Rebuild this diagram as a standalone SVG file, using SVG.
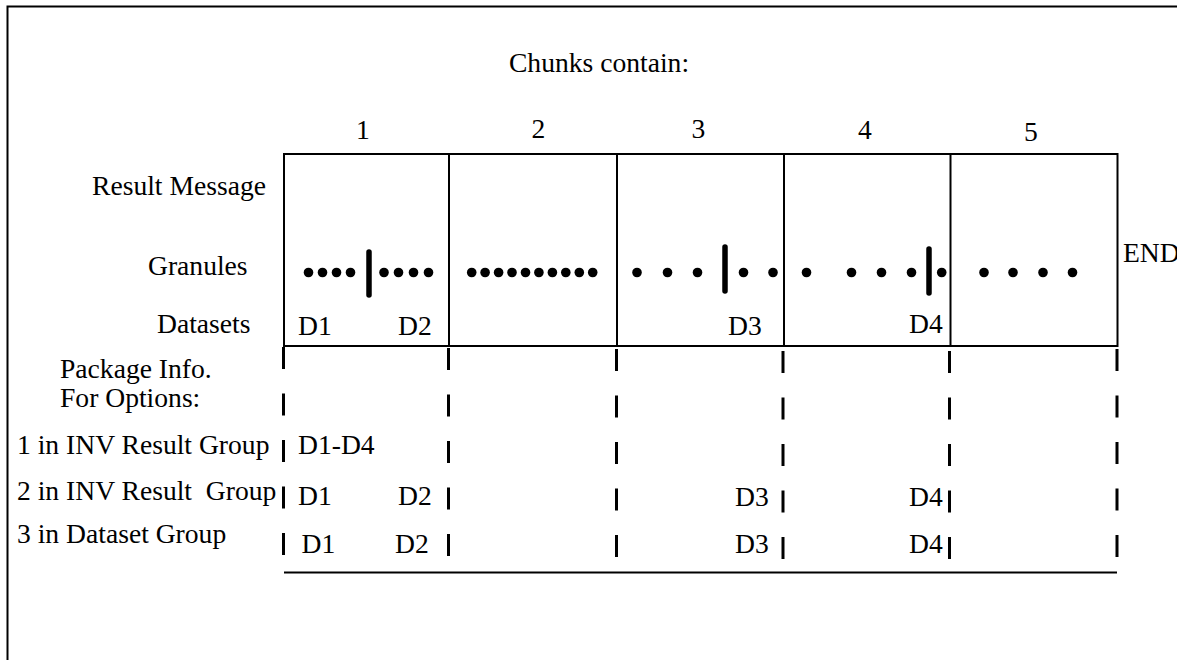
<svg xmlns="http://www.w3.org/2000/svg" width="1177" height="660" viewBox="0 0 1177 660">
<style>
  text { font-family: "Liberation Serif", "Times New Roman", serif; font-size: 27.6px; fill: #000; }
  .frame { fill: none; stroke: #000; stroke-width: 2; }
  .box { fill: none; stroke: #000; stroke-width: 2; }
  .div { stroke: #000; stroke-width: 2; }
  .dash { stroke: #000; stroke-width: 3; stroke-dasharray: 22 24.5; }
  .bar { stroke: #000; stroke-width: 5.5; stroke-linecap: round; }
  .dot { fill: #000; }
  .base { stroke: #000; stroke-width: 2; }
</style>
<defs>
  <circle id="d" r="4.8" class="dot"/>
</defs>
<rect width="1177" height="660" fill="#fff"/>
<path class="frame" d="M7.5,661 V6.5 H1180"/>

<text x="599" y="72" text-anchor="middle">Chunks contain:</text>

<g id="chunk-numbers">
  <text x="363" y="139" text-anchor="middle">1</text>
  <text x="538.5" y="137.5" text-anchor="middle">2</text>
  <text x="698.5" y="138" text-anchor="middle">3</text>
  <text x="865" y="139" text-anchor="middle">4</text>
  <text x="1031" y="141" text-anchor="middle">5</text>
</g>

<g id="row-labels">
  <text x="92" y="195">Result Message</text>
  <text x="148" y="275">Granules</text>
  <text x="157" y="333">Datasets</text>
  <text x="60" y="378">Package Info.</text>
  <text x="60" y="407">For Options:</text>
  <text x="17" y="454">1 in INV Result Group</text>
  <text x="17" y="500" xml:space="preserve">2 in INV Result  Group</text>
  <text x="17" y="543">3 in Dataset Group</text>
</g>

<g id="message-box">
  <rect class="box" x="284" y="154" width="833.5" height="192"/>
  <line class="div" x1="449" y1="154" x2="449" y2="346"/>
  <line class="div" x1="617" y1="154" x2="617" y2="346"/>
  <line class="div" x1="784" y1="154" x2="784" y2="346"/>
  <line class="div" x1="950.5" y1="154" x2="950.5" y2="346"/>
</g>

<g id="granules">
  <use href="#d" x="308.5" y="272.5"/>
  <use href="#d" x="322.5" y="272.5"/>
  <use href="#d" x="336.5" y="272.5"/>
  <use href="#d" x="350.5" y="272.5"/>
  <line class="bar" x1="369" y1="252" x2="369" y2="295"/>
  <use href="#d" x="384" y="272.5"/>
  <use href="#d" x="398.5" y="272.5"/>
  <use href="#d" x="413.5" y="272.5"/>
  <use href="#d" x="428.5" y="272.5"/>

  <use href="#d" x="471.7" y="272.5"/>
  <use href="#d" x="485.1" y="272.5"/>
  <use href="#d" x="498.6" y="272.5"/>
  <use href="#d" x="512.0" y="272.5"/>
  <use href="#d" x="525.5" y="272.5"/>
  <use href="#d" x="538.9" y="272.5"/>
  <use href="#d" x="552.4" y="272.5"/>
  <use href="#d" x="565.8" y="272.5"/>
  <use href="#d" x="579.3" y="272.5"/>
  <use href="#d" x="592.7" y="272.5"/>

  <use href="#d" x="637" y="272.5"/>
  <use href="#d" x="667.5" y="272.5"/>
  <use href="#d" x="697.5" y="272.5"/>
  <line class="bar" x1="725" y1="247" x2="725" y2="291"/>
  <use href="#d" x="743.5" y="272.5"/>
  <use href="#d" x="773" y="272.5"/>

  <use href="#d" x="806.5" y="272.5"/>
  <use href="#d" x="851.5" y="272.5"/>
  <use href="#d" x="881.5" y="272.5"/>
  <use href="#d" x="911.5" y="272.5"/>
  <line class="bar" x1="929" y1="249" x2="929" y2="293"/>
  <use href="#d" x="941.7" y="272.5"/>

  <use href="#d" x="984" y="272.5"/>
  <use href="#d" x="1013" y="272.5"/>
  <use href="#d" x="1043" y="272.5"/>
  <use href="#d" x="1072.5" y="272.5"/>
</g>

<text x="1123" y="262">END</text>

<g id="datasets">
  <text x="298" y="335">D1</text>
  <text x="398" y="335">D2</text>
  <text x="728" y="335">D3</text>
  <text x="909" y="333">D4</text>
</g>

<g id="package-columns">
  <line class="dash" x1="283.5" y1="347" x2="283.5" y2="556"/>
  <line class="dash" x1="448.5" y1="348" x2="448.5" y2="557"/>
  <line class="dash" x1="616.5" y1="349" x2="616.5" y2="558"/>
  <line class="dash" x1="783" y1="351" x2="783" y2="560"/>
  <line class="dash" x1="949.5" y1="351" x2="949.5" y2="560"/>
  <line class="dash" x1="1117" y1="349" x2="1117" y2="558"/>
  <line class="base" x1="284" y1="572.5" x2="1117" y2="572.5"/>
</g>

<g id="option1">
  <text x="298" y="454">D1-D4</text>
</g>
<g id="option2">
  <text x="298" y="505">D1</text>
  <text x="398" y="505">D2</text>
  <text x="735" y="506">D3</text>
  <text x="909" y="506">D4</text>
</g>
<g id="option3">
  <text x="301.5" y="553">D1</text>
  <text x="395" y="553">D2</text>
  <text x="735" y="553">D3</text>
  <text x="909" y="553">D4</text>
</g>
</svg>
